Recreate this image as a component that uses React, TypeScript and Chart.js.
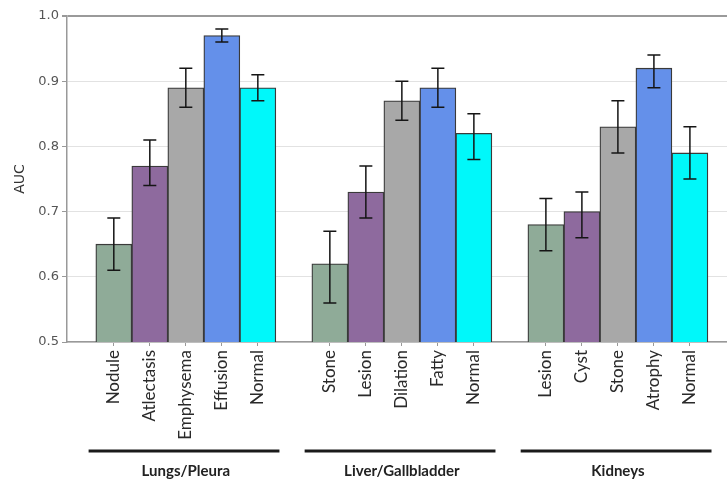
import React, { useEffect, useRef } from "react";
import { Chart, registerables } from "chart.js";

Chart.register(...registerables);

const categories = [
  "Nodule", "Atlectasis", "Emphysema", "Effusion", "Normal",
  "Stone", "Lesion", "Dilation", "Fatty", "Normal",
  "Lesion", "Cyst", "Stone", "Atrophy", "Normal",
];
const groups = ["Lungs/Pleura", "Liver/Gallbladder", "Kidneys"];
const aucValues = [0.65, 0.77, 0.89, 0.97, 0.89, 0.62, 0.73, 0.87, 0.89, 0.82, 0.68, 0.70, 0.83, 0.92, 0.79];
const errLow = [0.61, 0.74, 0.86, 0.96, 0.87, 0.56, 0.69, 0.84, 0.86, 0.78, 0.64, 0.66, 0.79, 0.89, 0.75];
const errHigh = [0.69, 0.81, 0.92, 0.98, 0.91, 0.67, 0.77, 0.90, 0.92, 0.85, 0.72, 0.73, 0.87, 0.94, 0.83];
const yTicks = [0.5, 0.6, 0.7, 0.8, 0.9, 1.0];

const PER_GROUP = 5;
const barPalette = ["#8fab98", "#8e6a9e", "#a8a8a8", "#6490ea", "#00f8fa"];

const positions = categories.map((_, i) => i + Math.floor(i / PER_GROUP));

const annotations = {
  id: "annotations",
  afterDatasetsDraw(chart: any) {
    const { ctx } = chart;
    const x = chart.scales.x;
    const y = chart.scales.y;
    ctx.save();
    // error bars
    ctx.strokeStyle = "#151515";
    ctx.lineWidth = 1.5;
    positions.forEach((p, i) => {
      const px = x.getPixelForValue(p);
      const lo = y.getPixelForValue(errLow[i]);
      const hi = y.getPixelForValue(errHigh[i]);
      ctx.beginPath();
      ctx.moveTo(px, lo);
      ctx.lineTo(px, hi);
      ctx.moveTo(px - 6.5, lo);
      ctx.lineTo(px + 6.5, lo);
      ctx.moveTo(px - 6.5, hi);
      ctx.lineTo(px + 6.5, hi);
      ctx.stroke();
    });
    // group lines + labels
    groups.forEach((g, gi) => {
      const first = positions[gi * PER_GROUP];
      const last = positions[gi * PER_GROUP + PER_GROUP - 1];
      const x0 = x.getPixelForValue(first - 0.7);
      const x1 = x.getPixelForValue(last + 0.6);
      ctx.strokeStyle = "#1a1a1a";
      ctx.lineWidth = 3;
      ctx.beginPath();
      ctx.moveTo(x0, 451);
      ctx.lineTo(x1, 451);
      ctx.stroke();
      ctx.fillStyle = "#222";
      ctx.font = "bold 15px Lato";
      ctx.textAlign = "center";
      ctx.textBaseline = "middle";
      ctx.fillText(g, x.getPixelForValue((first + last) / 2), 471);
    });
    ctx.restore();
  },
};

export default function App() {
  const ref = useRef<HTMLCanvasElement>(null);
  useEffect(() => {
    if (!ref.current) return;
    const chart = new Chart(ref.current, {
      type: "bar",
      data: {
        datasets: [
          {
            data: positions.map((p, i) => ({ x: p, y: aucValues[i] })),
            backgroundColor: categories.map((_, i) => barPalette[i % PER_GROUP]),
            borderColor: "#3a3a3a",
            borderWidth: 1.3,
            barPercentage: 1,
            categoryPercentage: 1,
          },
        ],
      },
      options: {
        animation: false,
        responsive: false,
        devicePixelRatio: 1,
        layout: { padding: { top: 16, right: 0, left: 0, bottom: 0 } },
        plugins: { legend: { display: false }, tooltip: { enabled: false } },
        scales: {
          x: {
            type: "linear",
            offset: false,
            min: -1.3,
            max: 17.03,
            afterBuildTicks(scale: any) {
              scale.ticks = positions.map((p) => ({ value: p }));
            },
            afterFit(scale: any) {
              scale.height = 143;
            },
            ticks: {
              autoSkip: false,
              maxRotation: 90,
              minRotation: 90,
              padding: 4,
              color: "#2a2a2a",
              font: { family: "Lato", size: 17 },
              callback: (v: any) => {
                const idx = positions.indexOf(Number(v));
                return idx >= 0 ? categories[idx] : "";
              },
            },
            grid: {
              offset: false,
              drawOnChartArea: false,
              drawTicks: true,
              tickLength: 4,
              color: "#999",
            },
            border: { display: true, color: "#999", width: 1.5 },
          },
          y: {
            min: 0.5,
            max: 1.0,
            afterBuildTicks(scale: any) {
              scale.ticks = yTicks.map((v) => ({ value: v }));
            },
            afterFit(scale: any) {
              scale.width = 67;
            },
            title: {
              display: true,
              text: "AUC",
              color: "#333",
              font: { family: "DejaVu Sans", size: 14 },
              padding: { top: 12, bottom: 0 },
            },
            ticks: {
              color: "#555",
              padding: 3,
              font: { family: "DejaVu Sans", size: 13 },
              callback: (v: any) => Number(v).toFixed(1),
            },
            grid: {
              color: (c: any) =>
                c.tick && Math.abs(c.tick.value - 1) < 1e-6 ? "#9a9a9a" : "#e2e2e2",
              lineWidth: (c: any) =>
                c.tick && Math.abs(c.tick.value - 1) < 1e-6 ? 2 : 1,
              tickLength: 5,
              tickColor: "#999",
            },
            border: { display: true, color: "#999", width: 1.5 },
          },
        },
      },
      plugins: [annotations],
    });
    return () => chart.destroy();
  }, []);
  return (
    <div style={{ position: "absolute", left: 0, top: 0, width: 727, height: 485, background: "#fff" }}>
      <canvas ref={ref} width={727} height={485} />
    </div>
  );
}
